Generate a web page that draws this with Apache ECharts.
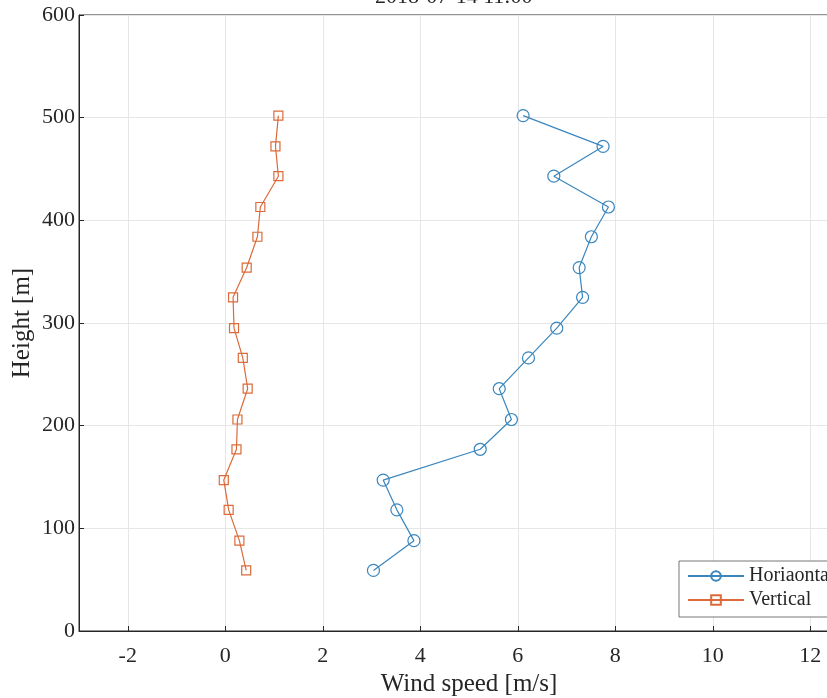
<!DOCTYPE html>
<html>
<head>
<meta charset="utf-8">
<script src="https://cdn.jsdelivr.net/npm/echarts@6/dist/echarts.min.js"></script>
<style>html,body{margin:0;padding:0;background:#fff;overflow:hidden}#c{width:862px;height:698px}</style>
</head>
<body>
<div id="c"></div>
<script>
var heights = [59, 88, 118, 147, 177, 206, 236, 266, 295, 325, 354, 384, 413, 443, 472, 502];
var horizontal = [3.04, 3.87, 3.52, 3.24, 5.23, 5.87, 5.62, 6.22, 6.80, 7.33, 7.26, 7.51, 7.86, 6.74, 7.75, 6.11];
var vertical = [0.43, 0.29, 0.07, -0.03, 0.23, 0.25, 0.46, 0.36, 0.18, 0.16, 0.44, 0.66, 0.72, 1.09, 1.03, 1.09];
var xTicks = [-2, 0, 2, 4, 6, 8, 10, 12];
var titleText = '2018-07-14 11:00';

var FONT = '"Liberation Serif", "DejaVu Serif", serif';
var chart = echarts.init(document.getElementById('c'));
function pairs(xs) { return xs.map(function (v, i) { return [v, heights[i]]; }); }

chart.setOption({
  animation: false,
  backgroundColor: '#fff',
  graphic: [{
    type: 'text', left: 455 - 80, top: -14,
    style: { text: titleText, font: '22px ' + FONT, fill: '#262626' }
  }],
  grid: { left: 79, top: 15, right: 3, bottom: 67, show: true, borderColor: '#262626', borderWidth: 1,
          containLabel: false, outerBoundsMode: 'none' },
  xAxis: {
    type: 'value', min: -3, max: 13,
    name: 'Wind speed [m/s]', nameLocation: 'middle', nameGap: 36,
    nameTextStyle: { fontFamily: FONT, fontSize: 25, color: '#262626' },
    axisLine: { show: true, onZero: false, lineStyle: { color: '#262626' } },
    axisTick: { show: true, inside: true, length: 5, customValues: xTicks, lineStyle: { color: '#262626' } },
    axisLabel: { customValues: xTicks, fontFamily: FONT, fontSize: 22, color: '#262626', margin: 14 },
    splitLine: { show: true, lineStyle: { color: '#e6e6e6' } }
  },
  yAxis: {
    type: 'value', min: 0, max: 600, interval: 100,
    name: 'Height [m]', nameLocation: 'middle', nameGap: 44, nameRotate: 90, nameMoveOverlap: false,
    nameTextStyle: { fontFamily: FONT, fontSize: 25, color: '#262626' },
    axisLine: { show: true, onZero: false, lineStyle: { color: '#262626' } },
    axisTick: { show: true, inside: true, length: 5, lineStyle: { color: '#262626' } },
    axisLabel: { fontFamily: FONT, fontSize: 22, color: '#262626', margin: 4 },
    splitLine: { show: true, lineStyle: { color: '#e6e6e6' } }
  },
  legend: {
    left: 679, top: 561, orient: 'vertical',
    backgroundColor: '#fff', borderColor: '#777', borderWidth: 1,
    padding: [5, 8, 7, 8], itemGap: 4, itemWidth: 56, itemHeight: 12,
    textStyle: { fontFamily: FONT, fontSize: 20, color: '#262626' },
    data: ['Horiaontal', 'Vertical']
  },
  series: [{
    name: 'Horiaontal', type: 'line', data: pairs(horizontal),
    symbol: 'circle', symbolSize: 12,
    lineStyle: { color: '#3a86bd', width: 1.2 },
    itemStyle: { color: 'none', borderColor: '#3a86bd', borderWidth: 1.2 },
    emphasis: { disabled: true }
  }, {
    name: 'Vertical', type: 'line', data: pairs(vertical),
    symbol: 'rect', symbolSize: 9,
    lineStyle: { color: '#dc6a3a', width: 1.2 },
    itemStyle: { color: 'none', borderColor: '#dc6a3a', borderWidth: 1.2 },
    emphasis: { disabled: true }
  }]
});
</script>
</body>
</html>
